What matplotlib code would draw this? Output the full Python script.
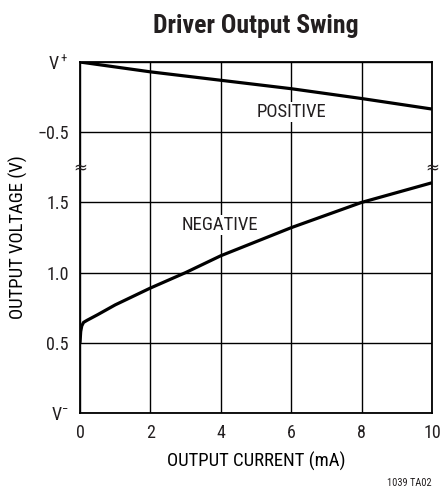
import matplotlib
matplotlib.use('Agg')
import matplotlib.pyplot as plt

plt.rcParams['font.family'] = ['Roboto Condensed', 'DejaVu Sans']
plt.rcParams['mathtext.fontset'] = 'custom'
plt.rcParams['mathtext.rm'] = 'Roboto Condensed'
plt.rcParams['text.color'] = '#231f20'

# positive swing: volts relative to V+
cur_pos = [0, 2, 4, 6, 8, 10]
v_pos = [0, -0.07, -0.13, -0.19, -0.26, -0.335]

# negative swing: volts relative to V-
cur_neg = [0, 0.02, 0.05, 0.1, 0.2, 0.5, 1, 2, 3, 4, 5, 6, 7, 8, 9, 10]
v_neg = [0.5, 0.58, 0.62, 0.645, 0.66, 0.7, 0.77, 0.89, 1.0, 1.12, 1.22, 1.32, 1.41, 1.5, 1.57, 1.64]

x_ticks = [0, 2, 4, 6, 8, 10]
y_labels = ['V$^{\u2212}$', '0.5', '1.0', '1.5', '\u22120.5', 'V$^+$']

# broken axis: lower half measured from V-, upper half from V+
def neg_axis(v):
    return [2 * a for a in v]

def pos_axis(v):
    return [5 + 2 * a for a in v]

fig = plt.figure(figsize=(4.4, 4.95), dpi=100)
ax = fig.add_axes([0.1818, 0.1657, 0.8, 0.709])

ax.plot(cur_pos, pos_axis(v_pos), color='black', lw=2.3, solid_capstyle='butt', zorder=3)
ax.plot(cur_neg, neg_axis(v_neg), color='black', lw=2.3, solid_capstyle='butt', zorder=3)

ax.set_xlim(0, 10)
ax.set_ylim(0, 5)
ax.set_xticks(x_ticks)
ax.set_xticklabels([str(t) for t in x_ticks])
ax.set_yticks(range(6))
ax.set_yticklabels(y_labels)
ax.tick_params(length=0, labelsize=13, pad=8, labelcolor='#231f20')
ax.grid(True, color='black', lw=1)
for s in ax.spines.values():
    s.set_linewidth(1.3)

lbl_box = dict(facecolor='white', edgecolor='none', pad=1)
ax.text(6.0, 4.29, 'POSITIVE', ha='center', va='center', fontsize=13.5, bbox=lbl_box, zorder=4)
ax.text(3.97, 2.68, 'NEGATIVE', ha='center', va='center', fontsize=13.5, bbox=lbl_box, zorder=4)

# break marks
ax.text(0, 3.5, '\u2248', ha='center', va='center', fontsize=12, family='DejaVu Sans')
ax.text(10, 3.5, '\u2248', ha='center', va='center', fontsize=12, family='DejaVu Sans')

ax.set_xlabel('OUTPUT CURRENT (mA)', fontsize=13.5, labelpad=7)
ax.set_ylabel('OUTPUT VOLTAGE (V)', fontsize=13.5, labelpad=7)
fig.text(0.582, 0.948, 'Driver Output Swing', ha='center', va='center', fontsize=18.5, fontweight='bold')
fig.text(0.982, 0.015, '1039 TA02', ha='right', va='bottom', fontsize=7.5)

fig.savefig('out.png', dpi=100)
